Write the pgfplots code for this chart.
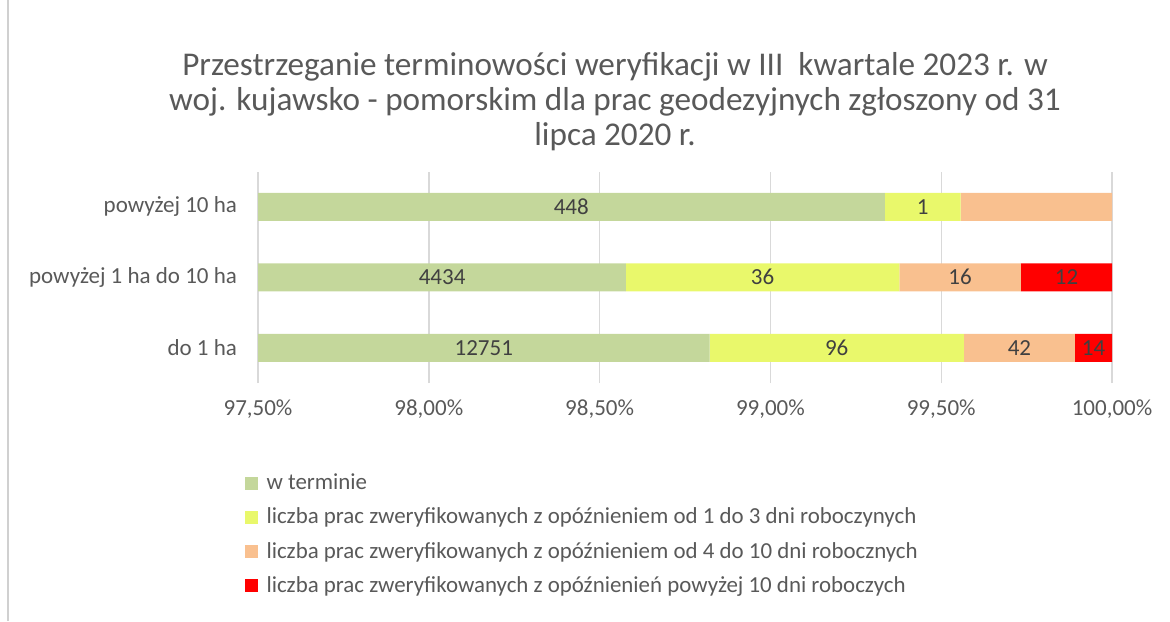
\documentclass[border=0pt]{standalone}
\usepackage{pgfplots}
\pgfplotsset{compat=1.18}
\usepackage{pgfplotstable}
\usepackage{fontspec}
\setmainfont{Carlito}
\definecolor{cgreen}{HTML}{C4D79B}
\definecolor{cyellow}{HTML}{E9F86B}
\definecolor{corange}{HTML}{F9C08F}
\definecolor{cred}{HTML}{FF0000}
\definecolor{gridgray}{HTML}{D9D9D9}
\definecolor{labgray}{HTML}{595959}
\definecolor{numgray}{HTML}{404040}
\definecolor{framegray}{HTML}{D0D0D0}
% percentages of each row (rows: 0 = do 1 ha, 1 = powyzej 1 ha do 10 ha, 2 = powyzej 10 ha)
\pgfplotstableread{
y green yellow orange red
0 98.82198 0.74401 0.32551 0.10850
1 98.57714 0.80036 0.35571 0.26679
2 99.33481 0.22173 0.44346 0
}\bars
% label positions (centre of the visible segment) and counts
\pgfplotstableread{
y x lab
0 98.161 12751
0 99.194 96
0 99.729 42
0 99.946 14
1 98.039 4434
1 98.977 36
1 99.555 16
1 99.867 12
2 98.417 448
2 99.446 1
}\labels
\begin{document}
\begin{tikzpicture}
\useasboundingbox (0,0) rectangle (585pt,310.5pt);
\draw[framegray, line width=0.6pt] (4pt,0) -- (4pt,310.5pt);
\node[text=labgray, align=center, font=\fontsize{16.6}{17.5}\selectfont] at (307.5pt,259.5pt)
 {Przestrzeganie terminowości weryfikacji w III\ \ kwartale 2023 r. w\\
  woj. kujawsko - pomorskim dla prac geodezyjnych zgłoszony od 31\\
  lipca 2020 r.};
\begin{axis}[
 at={(129pt,119pt)}, anchor=south west,
 width=427pt, height=105.75pt, scale only axis,
 xbar stacked, bar width=14pt,
 xmin=0, xmax=2.5, ymin=-0.5, ymax=2.5,
 ytick={0,1,2},
 yticklabels={do 1 ha, powyżej 1 ha do 10 ha, powyżej 10 ha},
 xtick={0,0.5,1,1.5,2,2.5},
 xticklabels={{97,50\%}, {98,00\%}, {98,50\%}, {99,00\%}, {99,50\%}, {100,00\%}},
 xmajorgrids, grid style={draw=gridgray, line width=0.7pt},
 axis line style={draw=none}, major tick style={draw=none},
 tick label style={text=labgray, font=\fontsize{11.5}{13}\selectfont},
 xticklabel style={yshift=-5pt},
 yticklabel style={xshift=-7pt},
 legend style={at={(-0.016,-0.41)}, anchor=north west, draw=none,
   font=\fontsize{11.45}{13}\selectfont, text=labgray, row sep=3.6pt,
   inner sep=0pt, /tikz/every odd column/.append style={column sep=2.5pt}},
 legend cell align=left,
 legend image code/.code={\fill[#1] (0pt,-3.2pt) rectangle (6.4pt,3.2pt);},
]
\addplot[fill=cgreen, draw=none] table[x expr=\thisrow{green}-97.5, y=y] {\bars};
\addlegendentry{w terminie}
\addplot[fill=cyellow, draw=none] table[x=yellow, y=y] {\bars};
\addlegendentry{liczba prac zweryfikowanych z opóźnieniem od 1 do 3 dni roboczynych}
\addplot[fill=corange, draw=none] table[x=orange, y=y] {\bars};
\addlegendentry{liczba prac zweryfikowanych z opóźnieniem od 4 do 10 dni robocznych}
\addplot[fill=cred, draw=none] table[x=red, y=y] {\bars};
\addlegendentry{liczba prac zweryfikowanych z opóźnienień powyżej 10 dni roboczych}
\end{axis}
\begin{axis}[
 at={(129pt,119pt)}, anchor=south west,
 width=427pt, height=105.75pt, scale only axis,
 xmin=0, xmax=2.5, ymin=-0.5, ymax=2.5,
 hide axis,
]
\addplot[only marks, mark=none, nodes near coords, point meta=explicit symbolic,
  every node near coord/.append style={anchor=center, text=numgray,
  font=\fontsize{11.5}{13}\selectfont}]
  table[x expr=\thisrow{x}-97.5, y=y, meta=lab] {\labels};
\end{axis}
\end{tikzpicture}
\end{document}
